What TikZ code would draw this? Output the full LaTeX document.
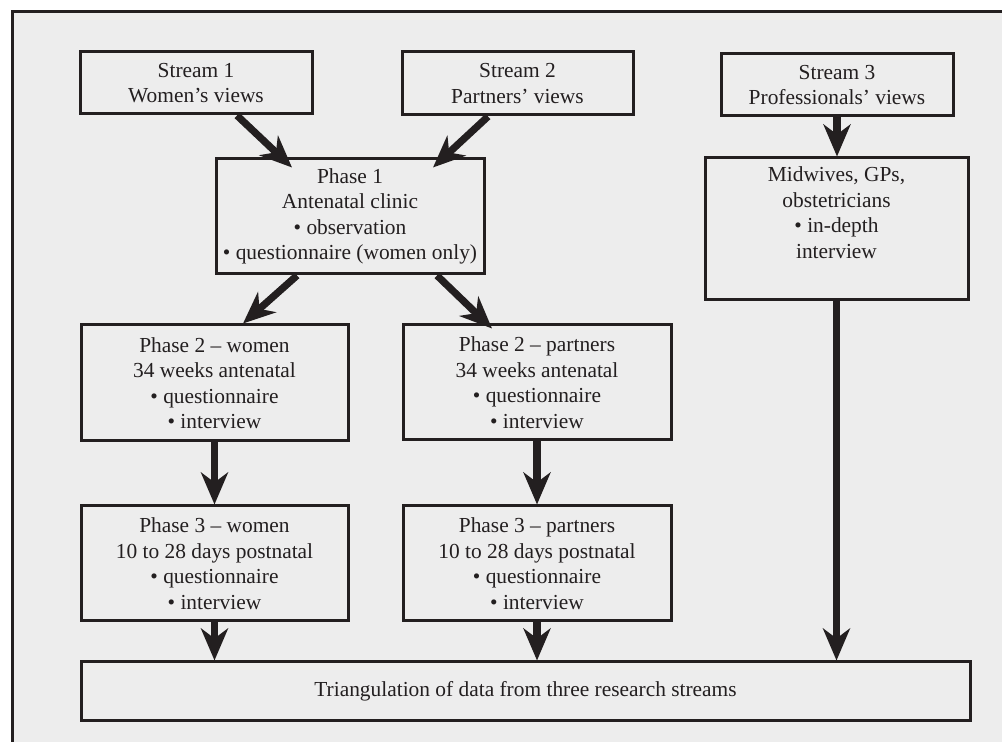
\documentclass[tikz,border=0pt]{standalone}
\usepackage{fontspec}
\setmainfont{Liberation Serif}
\usetikzlibrary{arrows.meta}
\definecolor{linecol}{HTML}{231F20}
\definecolor{bgcol}{HTML}{EDEDED}

\begin{document}
\begin{tikzpicture}[x=0.5pt,y=-0.5pt]
\tikzstyle{box_style} = [rectangle, draw=linecol, line width=1.5pt, fill=bgcol, text=linecol, align=center, inner sep=2pt, font=\fontsize{10.7}{12.75}\selectfont]
\tikzstyle{edge_style} = [-{Stealth[length=16pt,width=13.5pt,inset=5pt]}, linecol, line width=3.6pt]
    \useasboundingbox (0,0) rectangle (1002,742);
    \fill[bgcol] (12,12) rectangle (1010,750);
    \draw[linecol, line width=1.5pt] (12,750) -- (12,12) -- (1010,12);

    \node[box_style, minimum width=116pt, minimum height=31pt] (s1) at (196,83) {Stream 1\\Women's views};
    \node[box_style, minimum width=115.5pt, minimum height=31.5pt] (s2) at (517.5,83.5) {Stream 2\\Partners' views};
    \node[box_style, minimum width=116pt, minimum height=31pt] (s3) at (837,85) {Stream 3\\Professionals' views};

    \node[box_style, minimum width=134pt, minimum height=57.5pt] (p1) at (350,216.5) {Phase 1\\Antenatal clinic\\\textbullet\ observation\\\textbullet\ questionnaire (women only)};
    \node[box_style, minimum width=131.5pt, text height=48.25pt, text depth=18.75pt] (mw) at (836.5,229) {Midwives, GPs,\\obstetricians\\\textbullet\ in-depth\\interview};

    \node[box_style, minimum width=133.5pt, minimum height=58pt] (p2w) at (214.5,383) {Phase 2 -- women\\34 weeks antenatal\\\textbullet\ questionnaire\\\textbullet\ interview};
    \node[box_style, minimum width=134pt, minimum height=57.5pt] (p2p) at (537,382.5) {Phase 2 -- partners\\34 weeks antenatal\\\textbullet\ questionnaire\\\textbullet\ interview};

    \node[box_style, minimum width=133.5pt, minimum height=57.5pt] (p3w) at (214.5,563.5) {Phase 3 -- women\\10 to 28 days postnatal\\\textbullet\ questionnaire\\\textbullet\ interview};
    \node[box_style, minimum width=134pt, minimum height=57.5pt] (p3p) at (537,563.5) {Phase 3 -- partners\\10 to 28 days postnatal\\\textbullet\ questionnaire\\\textbullet\ interview};

    \node[box_style, minimum width=444.5pt, minimum height=29.5pt] (tri) at (525.5,691.5) {Triangulation of data from three research streams};

    \draw[edge_style] ([xshift=20.5pt]s1.south) -- ([xshift=-29pt,yshift=-5pt]p1.north);
    \draw[edge_style] ([xshift=-14.75pt]s2.south) -- ([xshift=41.5pt,yshift=-5pt]p1.north);
    \draw[edge_style] ([xshift=-26.5pt]p1.south) -- ([xshift=14.25pt]p2w.north);
    \draw[edge_style] ([xshift=43.5pt]p1.south) -- ([xshift=-22.5pt,yshift=-2.5pt]p2p.north);
    \draw[edge_style] (s3.south) -- (s3.south |- mw.north);

    \draw[edge_style] (p2w) -- (p3w);
    \draw[edge_style] (p2p) -- (p3p);

    \draw[edge_style] (p3w.south) -- (p3w.south |- tri.north);
    \draw[edge_style] (p3p.south) -- (p3p.south |- tri.north);
    \draw[edge_style] (mw.south) -- (mw.south |- tri.north);
\end{tikzpicture}
\end{document}
